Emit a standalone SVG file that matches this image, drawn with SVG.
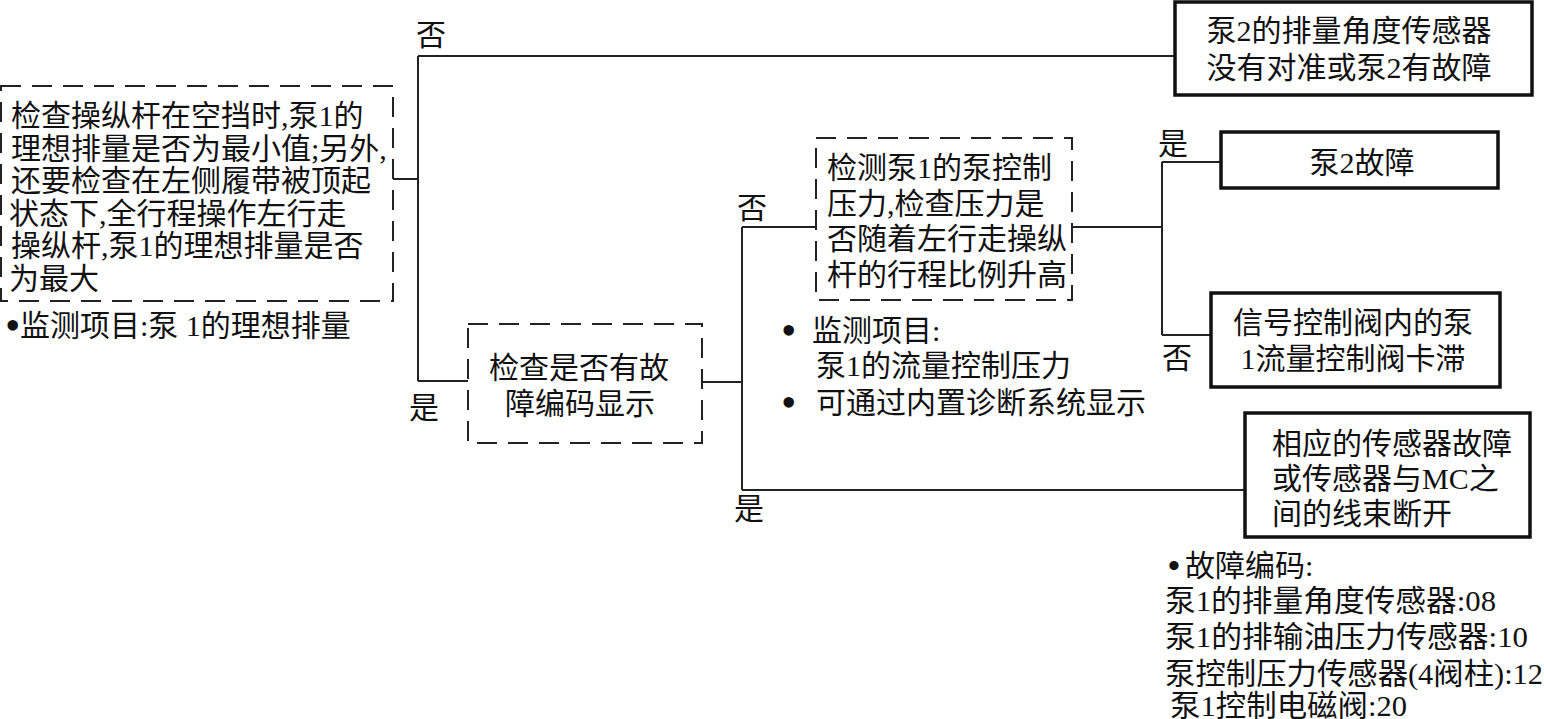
<svg xmlns="http://www.w3.org/2000/svg" width="1544" height="719" viewBox="0 0 1544 719">
<style>
text{font-family:"Liberation Serif","Noto Sans CJK SC",serif;font-size:30px;fill:#111;}
.b{font-size:44px;}
.bs{font-size:34px;font-weight:bold;}
.dash{fill:#fff;stroke:#222;stroke-width:2;stroke-dasharray:20 11;}
.solid{fill:#fff;stroke:#111;stroke-width:3.5;}
.c{stroke:#222;stroke-width:2;fill:none;}
.m{text-anchor:middle;}
</style>
<rect width="1544" height="719" fill="#fff"/>
<g id="connectors">
<path class="c" d="M393 179H418M418 56V381M418 56H1175M418 381H468"/>
<path class="c" d="M702 382H742M742 227V490M742 227H816M742 490H1245"/>
<path class="c" d="M1072 227H1162M1162 162V335M1162 162H1221M1162 335H1211"/>
</g>
<g id="labels">
<text x="416" y="45">否</text>
<text x="409" y="418">是</text>
<text x="737" y="218">否</text>
<text x="734" y="519">是</text>
<text x="1158" y="154">是</text>
<text x="1162" y="368">否</text>
</g>
<g id="nodeA">
<rect class="dash" x="1" y="86" width="392" height="215"/>
<text x="11" y="126">检查操纵杆在空挡时,泵1的</text>
<text x="11" y="158.6">理想排量是否为最小值;另外,</text>
<text x="11" y="191.2">还要检查在左侧履带被顶起</text>
<text x="9" y="223.8">状态下,全行程操作左行走</text>
<text x="11" y="256.4">操纵杆,泵1的理想排量是否</text>
<text x="9" y="289">为最大</text>
<text class="b" x="5" y="340">•</text>
<text x="20" y="336">监测项目:泵 1的理想排量</text>
</g>
<g id="nodeB">
<rect class="solid" x="1175" y="2" width="357" height="93"/>
<text class="m" x="1349" y="41">泵2的排量角度传感器</text>
<text class="m" x="1349" y="78">没有对准或泵2有故障</text>
</g>
<g id="nodeC">
<rect class="dash" x="468" y="324" width="234" height="119"/>
<text class="m" x="579" y="378">检查是否有故</text>
<text class="m" x="580" y="414">障编码显示</text>
</g>
<g id="nodeD">
<rect class="dash" x="816" y="138" width="256" height="162"/>
<text x="827" y="178">检测泵1的泵控制</text>
<text x="827" y="213.5">压力,检查压力是</text>
<text x="827" y="249">否随着左行走操纵</text>
<text x="827" y="284.5">杆的行程比例升高</text>
<text class="b" x="781" y="345">•</text>
<text x="812" y="341">监测项目:</text>
<text x="816" y="376">泵1的流量控制压力</text>
<text class="b" x="781" y="417">•</text>
<text x="816" y="413">可通过内置诊断系统显示</text>
</g>
<g id="nodeE">
<rect class="solid" x="1221" y="132" width="277" height="56"/>
<text class="m" x="1362" y="173">泵2故障</text>
</g>
<g id="nodeG">
<rect class="solid" x="1211" y="293" width="289" height="94"/>
<text class="m" x="1353" y="333">信号控制阀内的泵</text>
<text class="m" x="1353" y="369">1流量控制阀卡滞</text>
</g>
<g id="nodeF">
<rect class="solid" x="1245" y="413" width="285" height="124"/>
<text x="1272" y="454">相应的传感器故障</text>
<text x="1272" y="489">或传感器与MC之</text>
<text x="1272" y="524">间的线束断开</text>
<text class="bs" x="1168" y="577">•</text>
<text x="1185" y="576">故障编码:</text>
<text x="1165" y="611" textLength="331" lengthAdjust="spacingAndGlyphs">泵1的排量角度传感器:08</text>
<text x="1165" y="647" textLength="363" lengthAdjust="spacingAndGlyphs">泵1的排输油压力传感器:10</text>
<text x="1165" y="684" textLength="378" lengthAdjust="spacingAndGlyphs">泵控制压力传感器(4阀柱):12</text>
<text x="1170" y="716" textLength="237" lengthAdjust="spacingAndGlyphs">泵1控制电磁阀:20</text>
</g>
</svg>
